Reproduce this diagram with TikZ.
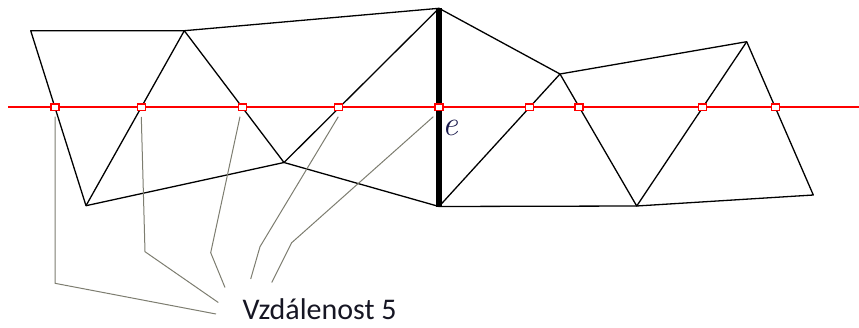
\documentclass[tikz,border=0pt]{standalone}
\usepackage{fontspec}
\newfontfamily\labelfont{Carlito}
\newfontfamily\efont{Latin Modern Roman}
\begin{document}
\begin{tikzpicture}[x=1pt,y=-1pt,
  edge/.style={line width=1.3pt,black,line join=round},
  thickedge/.style={line width=6.5pt,black},
  redline/.style={line width=1.8pt,draw={rgb,255:red,255;green,0;blue,0}},
  marker/.style={draw={rgb,255:red,255;green,0;blue,0},fill=white,line width=1.3pt,rectangle,minimum width=8pt,minimum height=6.5pt,inner sep=0pt},
  leader/.style={line width=1pt,draw={rgb,255:red,125;green,125;blue,112},line join=round}]
\useasboundingbox (0,0) rectangle (859,327);
% vertices
\coordinate (A) at (30.7,30.7);
\coordinate (B) at (184.3,30.7);
\coordinate (C) at (86,205.7);
\coordinate (D) at (284,162.5);
\coordinate (E) at (439,8.3);
\coordinate (F) at (439,206.5);
\coordinate (G) at (560,74);
\coordinate (H) at (636.7,206);
\coordinate (I) at (746.7,41.7);
\coordinate (J) at (813.3,195);
% edges
\draw[edge] (A) -- (B) -- (E) -- (G) -- (I) -- (J) -- (H) -- (F) -- (D) -- (C) -- cycle;
\draw[edge] (C) -- (B) -- (D) -- (E);
\draw[edge] (G) -- (F);
\draw[edge] (G) -- (H) -- (I);
\draw[thickedge] (E) -- (F);
% red line
\coordinate (RL) at (8,107.3);
\coordinate (RR) at (859,107.3);
\draw[redline] (RL) -- (RR);
% markers
\node[marker] (m1) at (55,107.3) {};
\node[marker] (m2) at (141.3,107.3) {};
\node[marker] (m3) at (242.3,107.3) {};
\node[marker] (m4) at (338.8,107.3) {};
\node[marker] (m5) at (439,107.3) {};
\node[marker] (m6) at (529.3,107.3) {};
\node[marker] (m7) at (579,107.3) {};
\node[marker] (m8) at (702.5,107.3) {};
\node[marker] (m9) at (775.5,107.3) {};
% label e
\node[text={rgb,255:red,25;green,25;blue,75},inner sep=0pt] (elab) at (450.5,127.5) {\efont\itshape\fontsize{35}{37}\selectfont e};
% text
\node[anchor=base west,inner sep=0pt,text depth=0pt,text={rgb,255:red,22;green,22;blue,35}] (txt) at (242.5,319.5) {\labelfont\fontsize{30}{33}\selectfont Vzdálenost 5};
% leader lines
\coordinate (s1) at (55,116.7);   \coordinate (b1) at (55,283.3);   \coordinate (e1) at (216,314);
\coordinate (s2) at (141.3,117);  \coordinate (b2) at (145,251.7);  \coordinate (e2) at (218.3,302.5);
\coordinate (s3) at (240,116.7);  \coordinate (b3) at (210.7,252.7);\coordinate (e3) at (225,287.5);
\coordinate (s4) at (338.3,116.7);\coordinate (b4) at (260,246.7);  \coordinate (e4) at (250.7,279);
\coordinate (s5) at (433.3,116.7);\coordinate (b5) at (291.7,242.7);\coordinate (e5) at (271.7,282.5);
\draw[leader] (s1) -- (b1) -- (e1);
\draw[leader] (s2) -- (b2) -- (e2);
\draw[leader] (s3) -- (b3) -- (e3);
\draw[leader] (s4) -- (b4) -- (e4);
\draw[leader] (s5) -- (b5) -- (e5);
\end{tikzpicture}
\end{document}
